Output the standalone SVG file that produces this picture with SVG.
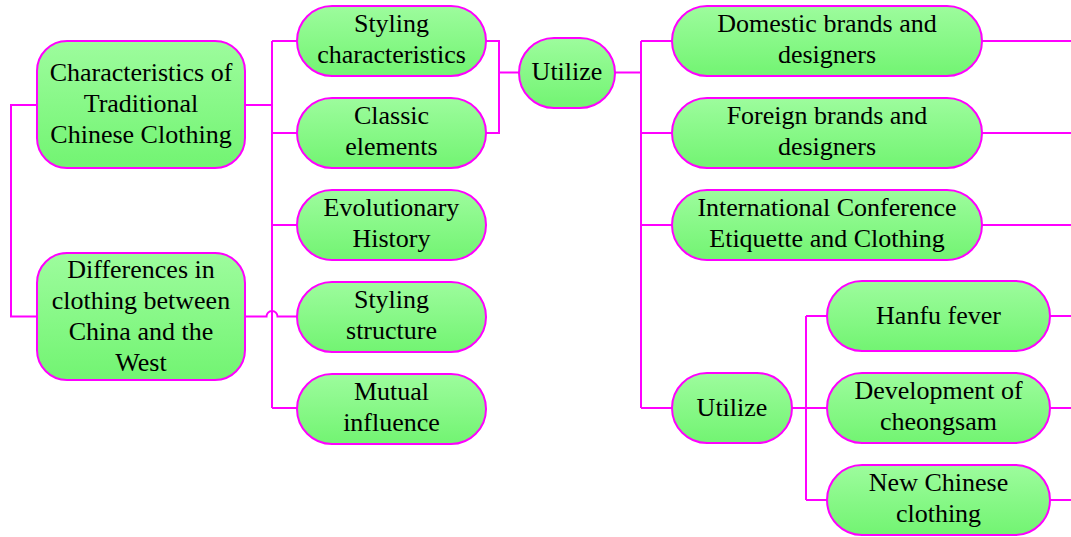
<svg xmlns="http://www.w3.org/2000/svg" width="1071" height="537" viewBox="0 0 1071 537">
<style>
.n{fill:url(#g);stroke:#FF00FF;stroke-width:2}
.c{fill:none;stroke:#FF00FF;stroke-width:2}
.t{font-size:26px;fill:#000;text-anchor:middle}
</style>
<defs>
<linearGradient id="g" x1="0" y1="0" x2="0" y2="1">
<stop offset="0" stop-color="#9DFC9D"/>
<stop offset="1" stop-color="#72F472"/>
</linearGradient>
</defs>
<rect width="1071" height="537" fill="#fff"/>
<g id="connectors">
<path class="c" d="M37 105 H11 V316.5 H37"/>
<path class="c" d="M245 105 H272"/>
<path class="c" d="M272 41 V408"/>
<path class="c" d="M245 316.5 H266.5 A5.5 5.5 0 0 1 277.5 316.5 H297"/>
<path class="c" d="M272 41 H297 M272 133 H297 M272 225 H297 M272 408 H297"/>
<path class="c" d="M486 41 H499 V133 H486 M499 72.5 H519"/>
<path class="c" d="M615 72.5 H641 M641 41 V408 M641 41 H672 M641 133 H672 M641 225 H672 M641 408 H672"/>
<path class="c" d="M982 41 H1071 M982 133 H1071 M982 225 H1071"/>
<path class="c" d="M792 408 H806 M806 316 V500 M806 316 H827 M806 408 H827 M806 500 H827"/>
<path class="c" d="M1050 316 H1071 M1050 408 H1071 M1050 500 H1071"/>
</g>
<g class="t" font-family="Liberation Serif, DejaVu Serif, serif">
<g id="n1"><rect class="n" x="37" y="41" width="208" height="127" rx="30"/>
<text x="141" y="81">Characteristics of</text><text x="141" y="112">Traditional</text><text x="141" y="143">Chinese Clothing</text></g>
<g id="n2"><rect class="n" x="37" y="253" width="208" height="127" rx="30"/>
<text x="141" y="278">Differences in</text><text x="141" y="309">clothing between</text><text x="141" y="340">China and the</text><text x="141" y="371">West</text></g>
<g id="m1"><rect class="n" x="297" y="6" width="189" height="70" rx="35"/>
<text x="391.5" y="32">Styling</text><text x="391.5" y="63">characteristics</text></g>
<g id="m2"><rect class="n" x="297" y="98" width="189" height="70" rx="35"/>
<text x="391.5" y="124">Classic</text><text x="391.5" y="155">elements</text></g>
<g id="m3"><rect class="n" x="297" y="190" width="189" height="70" rx="35"/>
<text x="391.5" y="216">Evolutionary</text><text x="391.5" y="247">History</text></g>
<g id="m4"><rect class="n" x="297" y="282" width="189" height="70" rx="35"/>
<text x="391.5" y="308">Styling</text><text x="391.5" y="339">structure</text></g>
<g id="m5"><rect class="n" x="297" y="374" width="189" height="70" rx="35"/>
<text x="391.5" y="400">Mutual</text><text x="391.5" y="431">influence</text></g>
<g id="u1"><rect class="n" x="519" y="38" width="96" height="70" rx="35"/>
<text x="567" y="80">Utilize</text></g>
<g id="r1"><rect class="n" x="672" y="6" width="310" height="70" rx="35"/>
<text x="827" y="32">Domestic brands and</text><text x="827" y="63">designers</text></g>
<g id="r2"><rect class="n" x="672" y="98" width="310" height="70" rx="35"/>
<text x="827" y="124">Foreign brands and</text><text x="827" y="155">designers</text></g>
<g id="r3"><rect class="n" x="672" y="190" width="310" height="70" rx="35"/>
<text x="827" y="216">International Conference</text><text x="827" y="247">Etiquette and Clothing</text></g>
<g id="u2"><rect class="n" x="672" y="373" width="120" height="70" rx="35"/>
<text x="732" y="416">Utilize</text></g>
<g id="s1"><rect class="n" x="827" y="281" width="223" height="70" rx="35"/>
<text x="938.5" y="324">Hanfu fever</text></g>
<g id="s2"><rect class="n" x="827" y="373" width="223" height="70" rx="35"/>
<text x="938.5" y="399">Development of</text><text x="938.5" y="430">cheongsam</text></g>
<g id="s3"><rect class="n" x="827" y="465" width="223" height="70" rx="35"/>
<text x="938.5" y="491">New Chinese</text><text x="938.5" y="522">clothing</text></g>
</g>
</svg>
